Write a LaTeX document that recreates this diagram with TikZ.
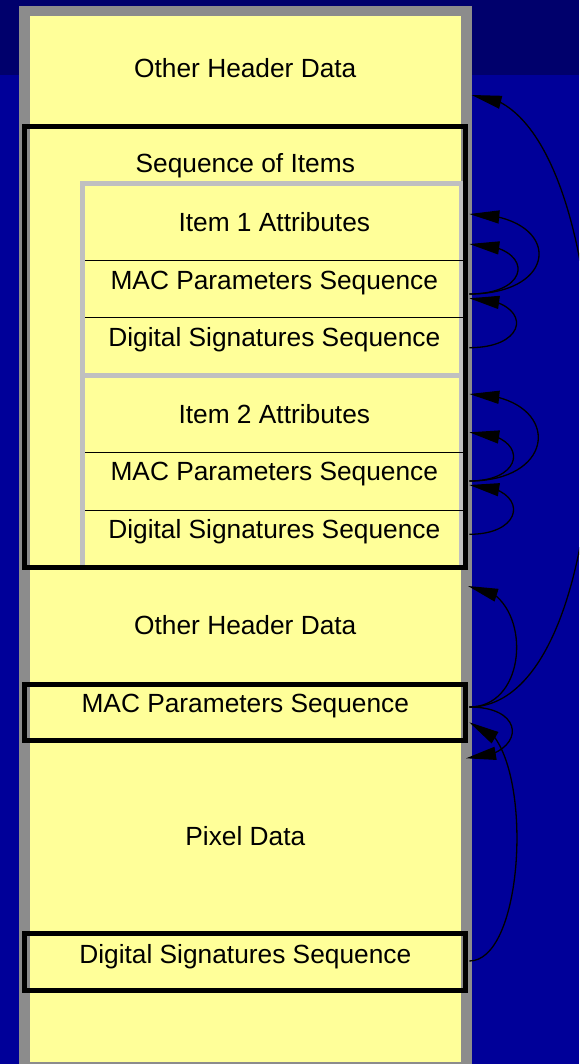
\documentclass[tikz,border=0pt]{standalone}
\usepackage{fontspec}
\setmainfont{Liberation Sans}
\usetikzlibrary{arrows.meta,bending}

\definecolor{bandblue}{RGB}{0,0,108}
\definecolor{deskblue}{RGB}{0,0,153}
\definecolor{paper}{RGB}{255,255,153}
\definecolor{framegray}{RGB}{140,140,140}
\definecolor{itemgray}{RGB}{192,192,192}

\begin{document}
\begin{tikzpicture}[x=1pt,y=-1pt,
  txt/.style={anchor=base,inner sep=0pt,font=\fontsize{26.3}{30}\selectfont},
  seqbox/.style={draw=black,line width=5pt},
  rowline/.style={draw=black,line width=1pt},
  itemframe/.style={draw=itemgray,line width=5pt},
  link/.style={draw=black,line width=1.3pt,-{Triangle[length=30pt,width=13pt]}}]

\useasboundingbox (0,0) rectangle (579,1064);
\clip (0,0) rectangle (579,1064);

% background
\fill[deskblue] (0,0) rectangle (579,1064);
\fill[bandblue] (0,0) rectangle (579,75);

% the file as a whole
\draw[framegray,line width=10.5pt,fill=paper] (24.3,11.2) rectangle (466.3,1067.5);

% items inside the sequence
\draw[itemframe] (82.5,184) rectangle (461.5,567.5);
\draw[itemframe,line width=5.6pt] (82.5,375.5) -- (461.5,375.5);
\draw[rowline] (85,260.7) -- (463,260.7);
\draw[rowline] (85,317.7) -- (463,317.7);
\draw[rowline] (85,452.3) -- (463,452.3);
\draw[rowline] (85,510) -- (463,510);

% sequences outlined in black
\draw[seqbox] (24.6,126.7) rectangle (465.8,567.5);
\draw[seqbox] (24.6,684) rectangle (465.8,740);
\draw[seqbox] (24.6,933.5) rectangle (465.8,990);

% labels
\node[txt] (hdrA)    at (245.3,77.7)  {Other Header Data};
\node[txt] (seq)     at (245.3,172.7) {Sequence of Items};
\node[txt] (itAattr) at (274.3,231.7) {Item 1 Attributes};
\node[txt] (itAmac)  at (274.3,289.3) {MAC Parameters Sequence};
\node[txt] (itAdsig) at (274.3,346.7) {Digital Signatures Sequence};
\node[txt] (itBattr) at (274.3,423.3) {Item 2 Attributes};
\node[txt] (itBmac)  at (274.3,480.7) {MAC Parameters Sequence};
\node[txt] (itBdsig) at (274.3,538.3) {Digital Signatures Sequence};
\node[txt] (hdrB)    at (245.3,634.3) {Other Header Data};
\node[txt] (mac)     at (245.3,712.7) {MAC Parameters Sequence};
\node[txt] (pixel)   at (245.3,845)   {Pixel Data};
\node[txt] (dsig)    at (245.3,963.3) {Digital Signatures Sequence};

% connector ends on the right edge
\coordinate (hdrA-in)   at (471.6,95);
\coordinate (itA-hi)    at (469.3,214);
\coordinate (itA-lo)    at (469.3,244);
\coordinate (itAmac-out) at (469.3,294);
\coordinate (itAmac-in) at (469.3,298.3);
\coordinate (itAdsig-out) at (469.3,347.7);
\coordinate (itB-hi)    at (469.3,394);
\coordinate (itB-lo)    at (469.3,432.3);
\coordinate (itBmac-out) at (469.3,481);
\coordinate (itBmac-in) at (469.3,485);
\coordinate (itBdsig-out) at (469.3,534.3);
\coordinate (hdrB-in)   at (468,586);
\coordinate (mac-out)   at (469.3,707);
\coordinate (mac-in)    at (469.3,722.3);
\coordinate (pixel-in)  at (466,758.3);
\coordinate (dsig-out)  at (469.3,961);

% item 1
\draw[link] (itAmac-out) .. controls +(93,0) and +(93,0) .. (itA-hi);
\draw[link] (itAmac-out) .. controls +(65,0) and +(65,0) .. (itA-lo);
\draw[link] (itAdsig-out) .. controls +(63,0) and +(63,0) .. (itAmac-in);
% item 2
\draw[link] (itBmac-out) .. controls +(92,0) and +(92,0) .. (itB-hi);
\draw[link] (itBmac-out) .. controls +(59,0) and +(59,0) .. (itB-lo);
\draw[link] (itBdsig-out) .. controls +(59,0) and +(59,0) .. (itBmac-in);
% top level MAC parameters
\draw[link] (mac-out) .. controls +(64,0) and +(64,0) .. (hdrB-in);
\draw[link] (mac-out) .. controls +(168,0) and +(158,0) .. (hdrA-in);
\draw[link] (mac-out) .. controls +(61,0) and +(58,0) .. (pixel-in);
% top level signatures
\draw[link] (dsig-out) .. controls +(61,0) and +(66,0) .. (mac-in);
\end{tikzpicture}
\end{document}
